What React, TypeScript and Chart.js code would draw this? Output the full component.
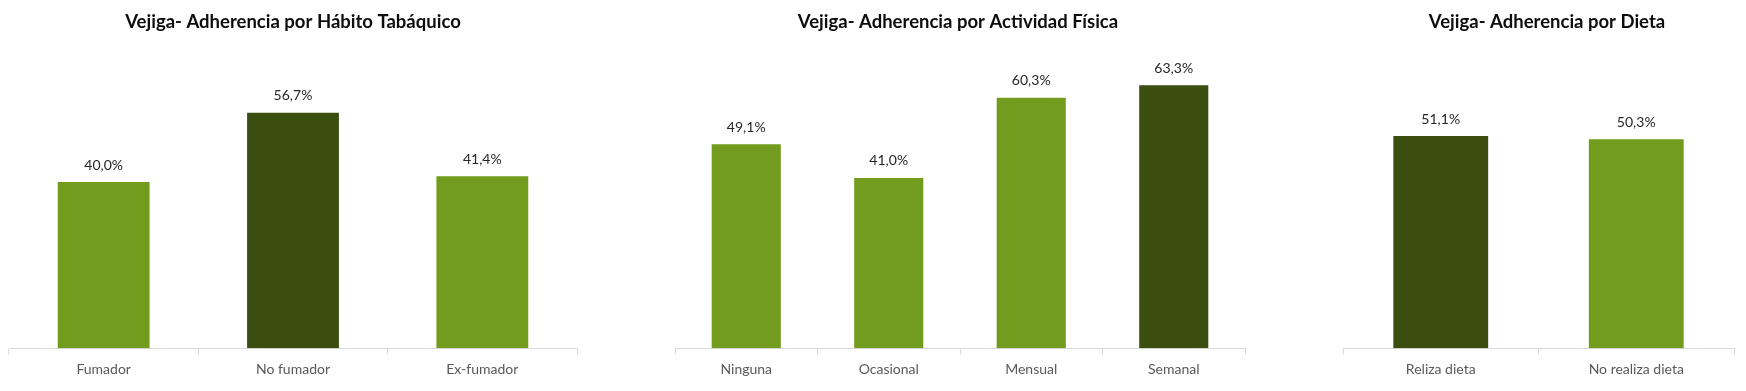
import React, { useEffect, useRef } from "react";
import { Chart, registerables } from "chart.js";

Chart.register(...registerables);

// ---- Data ----
const tabacoTitle = "Vejiga- Adherencia por Hábito Tabáquico";
const tabacoLabels = ["Fumador", "No fumador", "Ex-fumador"];
const tabacoValues = [40.0, 56.7, 41.4];

const actividadTitle = "Vejiga- Adherencia por Actividad Física";
const actividadLabels = ["Ninguna", "Ocasional", "Mensual", "Semanal"];
const actividadValues = [49.1, 41.0, 60.3, 63.3];

const dietaTitle = "Vejiga- Adherencia por Dieta";
const dietaLabels = ["Reliza dieta", "No realiza dieta"];
const dietaValues = [51.1, 50.3];

// ---- Styles ----
const LIGHT = "#729C1D";
const DARK = "#3A4E10";
const AXIS = "#D9D9D9";
const FONT = "Lato, 'Open Sans', sans-serif";

const fmt = (v: number) => v.toFixed(1).replace(".", ",") + "%";

type PanelProps = {
  title: string;
  labels: string[];
  values: number[];
  left: number;
  width: number;
  padLeft: number;
  padRight: number;
  titleX: number; // center of title relative to canvas
};

function BarPanel(p: PanelProps) {
  const ref = useRef<HTMLCanvasElement | null>(null);
  useEffect(() => {
    if (!ref.current) return;
    const max = Math.max(...p.values);
    const colors = p.values.map((v) => (v === max ? DARK : LIGHT));
    const labelPlugin = {
      id: "valueLabels",
      afterDatasetsDraw(chart: any) {
        const ctx = chart.ctx;
        const meta = chart.getDatasetMeta(0);
        ctx.save();
        ctx.font = `14px ${FONT}`;
        ctx.fillStyle = "#262626";
        ctx.textAlign = "center";
        ctx.textBaseline = "middle";
        meta.data.forEach((bar: any, i: number) => {
          ctx.fillText(fmt(p.values[i]), bar.x, bar.y - 17);
        });
        ctx.font = `bold 18.5px ${FONT}`;
        ctx.fillStyle = "#0D0D0D";
        ctx.fillText(p.title, p.titleX, 22);
        ctx.restore();
      },
    };
    const chart = new Chart(ref.current, {
      type: "bar",
      data: {
        labels: p.labels,
        datasets: [
          {
            data: p.values,
            backgroundColor: colors,
            borderWidth: 0,
            categoryPercentage: 1,
            barPercentage: 0.485,
          },
        ],
      },
      options: {
        responsive: false,
        animation: false,
        layout: { padding: { left: p.padLeft, right: p.padRight, top: 16, bottom: 6 } },
        plugins: {
          legend: { display: false },
          tooltip: { enabled: false },
          title: { display: false },
        },
        scales: {
          x: {
            grid: {
              display: true,
              drawOnChartArea: false,
              drawTicks: true,
              tickLength: 6,
              color: AXIS,
              offset: true,
            },
            border: { display: true, color: AXIS, width: 1 },
            ticks: {
              font: { family: FONT, size: 14 },
              color: "#595959",
              padding: 7,
              maxRotation: 0,
              autoSkip: false,
            },
          },
          y: { display: false, min: 0, max: 80 },
        },
      },
      plugins: [labelPlugin],
    });
    return () => chart.destroy();
  }, []);
  return (
    <canvas
      ref={ref}
      width={p.width}
      height={391}
      style={{ position: "absolute", left: p.left, top: 0, width: p.width, height: 391 }}
    />
  );
}

export default function App() {
  return (
    <div
      style={{
        position: "fixed",
        left: 0,
        top: 0,
        width: 1746,
        height: 391,
        background: "#FFFFFF",
        overflow: "hidden",
      }}
    >
      <BarPanel
        title={tabacoTitle}
        labels={tabacoLabels}
        values={tabacoValues}
        left={0}
        width={590}
        padLeft={9}
        padRight={13}
        titleX={293}
      />
      <BarPanel
        title={actividadTitle}
        labels={actividadLabels}
        values={actividadValues}
        left={600}
        width={660}
        padLeft={75}
        padRight={15}
        titleX={358}
      />
      <BarPanel
        title={dietaTitle}
        labels={dietaLabels}
        values={dietaValues}
        left={1270}
        width={476}
        padLeft={73}
        padRight={12}
        titleX={277}
      />
    </div>
  );
}
